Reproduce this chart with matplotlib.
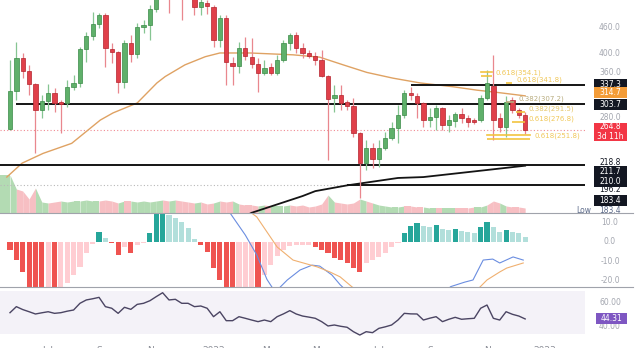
import matplotlib
matplotlib.use("Agg")
import matplotlib.pyplot as plt
import matplotlib.transforms as mtransforms
from matplotlib.patches import Rectangle
from matplotlib.lines import Line2D
import numpy as np

plt.rcParams['font.family'] = ['DejaVu Sans']

W, H = 640, 348

# ---------------- data (weekly candles) ----------------
opens = [266, 326, 391, 364, 339, 295, 309, 323, 306, 306,
         334, 341, 410, 440, 469, 493, 410, 404, 343, 423,
         399, 462, 467, 509, 549, 612, 564, 628, 558, 543,
         514, 526, 514, 430, 485, 380, 374, 412, 393, 378,
         360, 372, 360, 386, 423, 442, 412, 401, 395, 386,
         354, 314, 320, 308, 301, 260, 221, 240, 226, 240,
         253, 267, 287, 323, 318, 306, 279, 284, 298, 272,
         278, 289, 282, 279, 279, 314, 335, 282, 269, 311,
         295, 287]
closes = [326, 391, 364, 339, 295, 309, 323, 306, 305, 334,
          341, 410, 440, 469, 493, 412, 404, 343, 423, 399,
          462, 467, 509, 549, 612, 564, 628, 558, 543, 514,
          528, 517, 430, 485, 382, 374, 412, 395, 378, 360,
          370, 360, 386, 423, 442, 412, 401, 395, 386, 354,
          313, 320, 306, 301, 260, 221, 240, 226, 240, 253,
          267, 287, 323, 320, 306, 279, 284, 298, 272, 279,
          289, 282, 276, 276, 314, 341, 279, 269, 308, 295,
          287, 264.8]
highs = [386, 426, 401, 376, 341, 320, 339, 332, 311, 347,
         356, 415, 449, 501, 498, 498, 423, 406, 430, 442,
         472, 479, 520, 564, 646, 646, 663, 663, 579, 558,
         549, 534, 520, 493, 493, 393, 426, 437, 435, 391,
         386, 380, 397, 430, 447, 449, 423, 408, 404, 408,
         356, 337, 337, 311, 314, 262, 250, 247, 250, 261,
         276, 303, 328, 334, 323, 308, 298, 303, 300, 287,
         292, 298, 287, 282, 320, 366, 397, 290, 317, 316,
         298, 292]
lows = [264, 311, 351, 320, 234, 282, 295, 292, 260, 300,
        328, 334, 382, 430, 459, 372, 380, 323, 332, 382,
        390, 447, 430, 501, 540, 498, 555, 479, 537, 493,
        493, 495, 415, 415, 337, 337, 360, 386, 370, 325,
        356, 356, 356, 382, 408, 402, 391, 391, 376, 352,
        225, 292, 295, 295, 254, 183.4, 213, 215, 216, 237,
        250, 247, 282, 311, 282, 269, 269, 264, 264, 261,
        269, 275, 269, 273, 276, 311, 250, 261, 254, 290,
        282, 259]
volume = [38, 24, 22, 14, 25, 11, 10, 11, 12, 11,
          12, 12, 13, 12, 12, 13, 12, 10, 12, 12,
          11, 12, 11, 12, 13, 12, 13, 12, 11, 10,
          11, 9, 10, 12, 11, 12, 9, 8, 8, 7,
          8, 7, 7, 7, 8, 7, 8, 6, 7, 9,
          18, 11, 10, 9, 10, 14, 12, 10, 8, 7,
          6, 6, 7, 7, 6, 6, 5, 5, 5, 5,
          5, 5, 5, 6, 6, 8, 12, 10, 7, 6,
          6, 5]

# moving averages (week index, price)
ma_idx = [-0.5, 1.9, 5.2, 9.7, 14.2, 16.2, 20, 23.1, 24.4, 27.5, 30.7, 33,
          37.7, 44.5, 48.7, 52.4, 56.1, 60.2, 64.5, 69.7, 73.4, 76.6, 81]
ma_val = [205, 221, 233, 246, 279, 290, 306, 341, 353, 376, 393, 401,
          401, 397, 392, 376, 361, 350, 341, 334, 328, 324, 318]
ma200_idx = [36, 38, 46, 48, 53, 61, 65, 75, 81]
ma200_val = [163, 169, 185, 190, 196, 204, 205, 213, 218]

# horizontal support / resistance levels
level_price = [337.3, 303.7, 218.8, 196.2]
level_from = [63, 1, -2, 53]

# fibonacci levels
fib_ratio = ['0.618', '0.618', '0.382', '0.382', '0.618', '0.618']
fib_price = [354.1, 341.8, 307.2, 291.5, 276.8, 251.8]
fib_from = [74, 78, 78, 79.5, 79, 75]
fib_to = [75.8, 79, 79.3, 81, 81, 81.8]
last_price = 264.8

# MACD
macd_hist = [-4.3, -9.4, -15.5, -25, -27, -27.5, -26, -27, -23, -21,
             -17, -13, -6, -1.2, 5, 2, -0.7, -7, -2.7, -5.8,
             -1.7, -0.5, 4.5, 15, 15.5, 13.7, 12, 10, 7, 1.4,
             -1.7, -5.3, -13.5, -19.6, -25, -27, -26, -25.8, -25, -26.5,
             -17, -12, -7.3, -4.3, -2.2, -1.7, -1.6, -1.5, -2.7, -4.3,
             -5.8, -8.4, -9.4, -10.9, -13.5, -15.5, -10.9, -9.4, -7.8, -5.8,
             -2.7, -0.7, 4.5, 8, 9.6, 8, 7.5, 8.6, 6.5, 6,
             6.5, 5.5, 5, 4.5, 7.5, 10, 7.5, 5, 6, 5,
             4.5, 2.4]
macd_idx = [32.2, 34.6, 37, 38.8, 40.4, 41.7, 43.6, 45.6, 47.5, 48.7, 50.6, 51.9,
            53.5, 55.5, 66, 69.3, 71.5, 72.8, 74.4, 75.9, 77, 79.1, 80.7]
macd_val = [21, 14.7, 3.4, -6.8, -19.3, -25.8, -19.6, -14.5, -12, -12.5, -17, -22,
            -27, -32, -32, -23, -20.7, -19.6, -9.4, -8.9, -10.9, -7.8, -9.4]
sig_idx = [34, 36.2, 38.8, 40.4, 42, 44.5, 48.3, 50.3, 51.9, 53.8, 55.8, 71,
           72.3, 73.9, 75, 77, 78.1, 80.7]
sig_val = [24, 19, 12.7, 5, -2.7, -9.4, -12.9, -15.5, -18, -23.2, -27, -30,
           -27, -23.2, -19.6, -15.5, -13.5, -10.9]

# RSI
rsi = [50.1, 55.7, 53.0, 51.0, 48.9, 50.0, 51.0, 49.5, 50.1, 51.5,
       52.6, 58.8, 61.9, 63.0, 64.3, 55.7, 54.2, 49.5, 55.1, 53.2,
       57.8, 58.8, 61.2, 65.0, 68.6, 61.9, 62.5, 58.8, 58.8, 55.7,
       56.3, 54.2, 46.4, 51.0, 42.7, 42.7, 46.4, 44.9, 43.3, 41.8,
       43.3, 41.8, 46.4, 49.0, 52.0, 48.9, 47.0, 46.0, 44.9, 41.8,
       37.8, 38.7, 37.5, 36.6, 32.5, 29.4, 32.5, 31.6, 35.6, 37.0,
       38.7, 43.3, 49.5, 49.0, 48.9, 43.3, 45.0, 46.4, 41.8, 44.0,
       45.8, 44.0, 44.5, 44.9, 54.2, 57.2, 44.9, 43.3, 51.0, 48.6,
       47.0, 44.31]

month_idx = [6, 15, 23, 32, 41, 49, 58, 67, 76, 84]
month_lbl = ['Jul', 'Sep', 'Nov', '2022', 'Mar', 'May', 'Jul', 'Sep', 'Nov', '2023']

price_ticks = [460, 400, 360, 280]
macd_ticks = [10, 0, -10, -20]

# ---------------- figure ----------------
o = np.array(opens, float); c = np.array(closes, float)
h = np.array(highs, float); l = np.array(lows, float)
n = len(o)
idx = np.arange(n)
up = c >= o

fig = plt.figure(figsize=(W / 100, H / 100), dpi=100)
fig.patch.set_facecolor('white')


def px_axes(x0, y0, x1, y1):
    return fig.add_axes([x0 / W, 1 - y1 / H, (x1 - x0) / W, (y1 - y0) / H])


XL = (-10 / 6.36, (585 - 10) / 6.36)

axv = px_axes(0, 160, 585, 213)
ax = px_axes(0, 0, 585, 213)
axm = px_axes(0, 213, 585, 287)
axr = px_axes(0, 287, 585, 340)
axv.set_zorder(0)
ax.set_zorder(1)
ax.patch.set_alpha(0)
for a in (axv, ax, axm, axr):
    a.set_xlim(XL)
    for s in a.spines.values():
        s.set_visible(False)
    a.set_yticks([])
    a.set_xticks([])

# price pane (log scale)
ax.set_yscale('log')
ax.set_ylim(168.8, 534)
ax.yaxis.set_minor_locator(matplotlib.ticker.NullLocator())
ax.set_yticks([])

body_col = np.where(up, '#5fb06a', '#e0404a')
edge_col = np.where(up, '#3a8a47', '#b3232d')
wick_col = np.where(up, '#86c592', '#e9878e')
ax.vlines(idx, l, h, colors=wick_col, lw=0.9, zorder=3)
lo = np.minimum(o, c)
bh = np.maximum(np.abs(c - o), lo * 0.008)
ax.bar(idx, bh, bottom=lo, width=0.68, color=body_col, edgecolor=edge_col,
       lw=0.5, zorder=4)

ax.plot(ma_idx, ma_val, color='#dfa263', lw=1.0, zorder=2)
ax.plot(ma200_idx, ma200_val, color='#141414', lw=1.3, zorder=2)

for p, start in zip(level_price, level_from):
    ax.hlines(p, max(start, XL[0]), XL[1], color='#141414', lw=1.4, zorder=2)
ax.hlines(level_price[3], XL[0], level_from[3], color='#b8b8b8', lw=0.8,
          linestyles=(0, (1, 2)), zorder=1)
ax.axhline(last_price, color='#f08a92', lw=0.8, ls=(0, (1, 2)), zorder=1)

# fib
up4 = mtransforms.offset_copy(ax.transData, fig=fig, x=0, y=4, units='dots')
fib_text_col = ['#f0c85a', '#f0c85a', '#b8ac7e', '#e6c76a', '#f0c85a', '#f0c85a']
for k, (r, p, a, b) in enumerate(zip(fib_ratio, fib_price, fib_from, fib_to)):
    lc = '#b8ac7e' if k == 2 else '#f2c340'
    ax.hlines(p, a, b, color=lc, lw=1.2, zorder=5)
    if k in (0, 5):
        ax.plot([a, b], [p, p], color='#f2c340', lw=1.2, transform=up4, zorder=5)
    ax.text(b + 0.6, p, f'{r}({p})', fontsize=5, color=fib_text_col[k],
            ha='left', va='bottom', zorder=6, clip_on=False)

# volume overlay
axv.set_ylim(0, 53)
vol = np.array(volume, float)
vcol = np.where(up, '#b3dbb3', '#f7bfc3')
axv.fill_between([XL[0], 0], [vol[0], vol[0]], color=vcol[0], lw=0)
for i in range(n - 1):
    axv.fill_between([i, i + 1], [vol[i], vol[i + 1]], color=vcol[i + 1], lw=0)

# MACD
mh = np.array(macd_hist)
mcol = []
for i, v in enumerate(mh):
    prev = mh[i - 1] if i > 0 else 0
    if v >= 0:
        mcol.append('#26a69a' if v > prev else '#b2dfdb')
    else:
        mcol.append('#ef5350' if v < prev else '#ffcdd2')
axm.set_ylim(-23.2, 14.7)
axm.bar(idx, mh, width=0.8, color=mcol, lw=0)
axm.plot(macd_idx, macd_val, color='#6a8de0', lw=0.8)
axm.plot(sig_idx, sig_val, color='#f0b070', lw=0.8)

# RSI
axr.set_ylim(24.8, 73.9)
axr.axhspan(30, 70, color='#f4f2f8', lw=0)
axr.plot(idx, rsi, color='#4b4563', lw=1.0)
axr.set_xticks(month_idx)
axr.set_xticklabels(month_lbl)
axr.tick_params(axis='x', length=0, pad=4, labelsize=6.5, colors='#8a8d96')

# separators
for yy in (213, 287):
    fig.add_artist(Line2D([0, 633 / W], [1 - yy / H] * 2, color='#a0a3ab', lw=0.8))


# right-hand labels
def ypx(axis, val):
    return axis.transData.transform((0, val))[1]


def rtext(axis, val, s, color='#a3a6af', dy=0, x=610, z=3):
    fig.text(x / W, (ypx(axis, val) + dy) / H, s, ha='center', va='center',
             fontsize=5.5, color=color, zorder=z)


def tag(axis, val, s, fc, tc='white', dy=0, hh=11, x0=594, x1=627):
    y = ypx(axis, val) + dy
    fig.add_artist(Rectangle((x0 / W, (y - hh / 2) / H), (x1 - x0) / W, hh / H,
                             transform=fig.transFigure, fc=fc, ec='none', zorder=5))
    fig.text((x0 + x1) / 2 / W, y / H, s, ha='center', va='center',
             fontsize=5.5, color=tc, zorder=6, linespacing=1.1)


for t in price_ticks:
    rtext(ax, t, f'{t:.1f}', dy=1.5 if t == 280 else 0)
tag(ax, 337.3, '337.3', '#131722')
tag(ax, 314.7, '314.7', '#f39c38', dy=5)
tag(ax, 303.7, '303.7', '#131722')
tag(ax, last_price, f'{last_price}\n3d 11h', '#f23645', hh=18, dy=-2)
rtext(ax, 218.8, '218.8', '#131722', dy=3)
tag(ax, 211.7, '211.7', '#131722')
tag(ax, 210.0, '210.0', '#131722', dy=-9)
rtext(ax, 196.2, '196.2', '#131722', dy=-4)
tag(ax, 183.4, '183.4', '#131722', dy=-3)
rtext(ax, 183.4, 'Low', '#5d6b8a', dy=-12.5, x=584)
rtext(ax, 183.4, '183.4', '#5d6b8a', dy=-12.5)

for t in macd_ticks:
    rtext(axm, t, f'{t:.1f}')

rtext(axr, 60, '60.00')
rtext(axr, 40, '40.00', dy=-3)
tag(axr, rsi[-1], f'{rsi[-1]:.2f}', '#7e57c2', x0=596, x1=627)

fig.savefig('out.png', dpi=100)
